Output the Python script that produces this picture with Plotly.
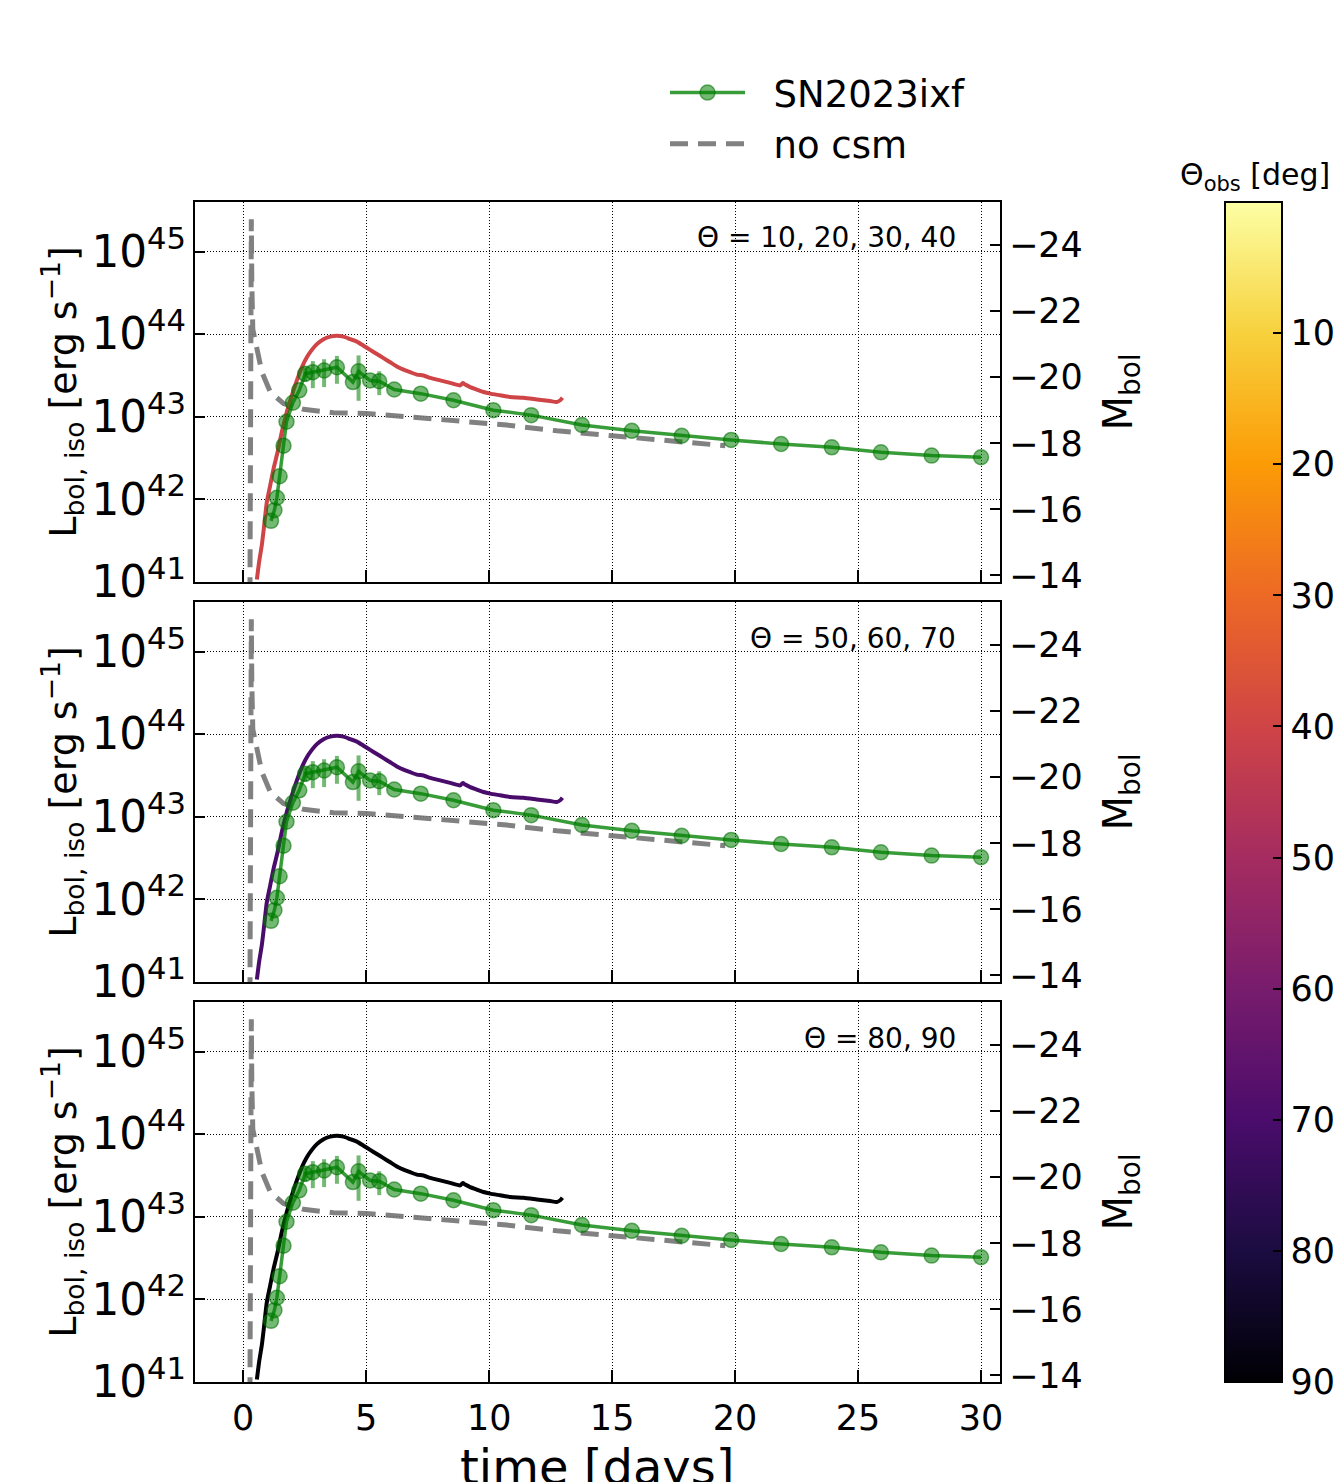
import numpy as np
import plotly.graph_objects as go
from plotly.subplots import make_subplots
from plotly.colors import sample_colorscale

# ---------------- data ----------------
# SN2023ixf observed bolometric light curve (time [days], log10 L [erg/s])
t_obs = [1.13, 1.27, 1.37, 1.48, 1.64, 1.76, 2.02, 2.28, 2.52, 2.83, 3.29, 3.81,
         4.46, 4.69, 5.16, 5.53, 6.14, 7.22, 8.55, 10.17, 11.71, 13.77, 15.80,
         17.83, 19.84, 21.87, 23.93, 25.93, 27.99, 30.00]
logL_obs = [41.74, 41.87, 42.02, 42.28, 42.65, 42.94, 43.17, 43.32, 43.52, 43.54,
            43.56, 43.60, 43.42, 43.55, 43.44, 43.43, 43.33, 43.28, 43.20, 43.08,
            43.02, 42.90, 42.83, 42.77, 42.72, 42.67, 42.63, 42.57, 42.53, 42.51]
# fractional (linear) uncertainties
frac_err_obs = [0, 0, 0, 0, 0, 0, 0, 0, 0.20, 0.36, 0.37, 0.37,
                0, 0.56, 0, 0.32, 0, 0, 0, 0, 0, 0, 0, 0, 0, 0, 0, 0, 0, 0]

# model light curve (CSM interaction), identical for all viewing angles
t_model = [0.556, 0.650, 0.759, 0.854, 0.962, 1.098, 1.233, 1.396, 1.572, 1.775,
           1.978, 2.182, 2.385, 2.588, 2.791, 2.995, 3.266, 3.537, 3.808, 4.079,
           4.350, 4.621, 4.892, 5.163, 5.434, 5.705, 5.976, 6.247, 6.518, 6.789,
           7.060, 7.331, 7.602, 8.008, 8.415, 8.821, 8.930, 9.024, 9.228, 9.499,
           9.770, 10.04, 10.45, 10.85, 11.40, 11.94, 12.48, 12.75, 12.89, 12.98]
logL_model = [41.03, 41.25, 41.45, 41.69, 41.97, 42.17, 42.37, 42.57, 42.82, 43.06,
              43.26, 43.44, 43.60, 43.72, 43.81, 43.88, 43.94, 43.97, 43.98, 43.97,
              43.94, 43.91, 43.86, 43.81, 43.76, 43.71, 43.66, 43.61, 43.57, 43.54,
              43.51, 43.50, 43.47, 43.44, 43.41, 43.38, 43.41, 43.39, 43.36, 43.33,
              43.30, 43.28, 43.26, 43.24, 43.23, 43.21, 43.19, 43.18, 43.20, 43.23]

# model without CSM
t_nocsm = [0.27, 0.30, 0.33, 0.35, 0.39, 0.47, 0.56, 0.76, 1.10, 1.64, 2.45, 3.67,
           5.03, 6.65, 8.69, 10.72, 12.75, 14.92, 17.20, 19.60]
logL_nocsm = [40.5, 44.0, 45.39, 44.62, 44.06, 43.95, 43.82, 43.54, 43.30, 43.16,
              43.09, 43.05, 43.04, 43.00, 42.94, 42.90, 42.83, 42.77, 42.71, 42.65]

# panels: viewing angles shown in each
panel_angles = [[10, 20, 30, 40], [50, 60, 70], [80, 90]]
panel_labels = ["Θ = 10, 20, 30, 40", "Θ = 50, 60, 70", "Θ = 80, 90"]

cbar_ticks = [10, 20, 30, 40, 50, 60, 70, 80, 90]
x_ticks = [0, 5, 10, 15, 20, 25, 30]

# axis ranges
x_range = [-1.96, 30.77]
logL_range = [41.0, 45.6]
M_SUN, LOGL_SUN = 4.74, np.log10(3.828e33)


def mag(logl):
    return M_SUN - 2.5 * (np.asarray(logl, dtype=float) - LOGL_SUN)


FONT = "DejaVu Sans"
W, H = 1342, 1482
L_M, R_M, T_M, B_M = 195, 342, 202, 100
plot_w = W - L_M - R_M
plot_h = H - T_M - B_M


def py(pix):
    """pixel row -> paper y"""
    return (H - B_M - pix) / plot_h


def px(pix):
    """pixel column -> paper x"""
    return (pix - L_M) / plot_w


fig = make_subplots(rows=3, cols=1, shared_xaxes=True,
                    vertical_spacing=20 / plot_h,
                    specs=[[{"secondary_y": True}]] * 3)

L_obs = 10 ** np.array(logL_obs)
err_obs = L_obs * np.array(frac_err_obs)

green_line = "rgba(0,128,0,0.78)"
green_mark = "rgba(0,128,0,0.55)"
NB = "\u00a0\u00a0"

for i, angles in enumerate(panel_angles):
    row = i + 1
    first = (i == 0)
    # invisible carrier for the absolute-magnitude axis
    fig.add_trace(go.Scatter(
        x=t_obs, y=mag(logL_obs), mode="lines", line=dict(color="rgba(0,0,0,0)"),
        showlegend=False, hoverinfo="skip"),
        row=row, col=1, secondary_y=True)
    # no csm
    fig.add_trace(go.Scatter(
        x=t_nocsm, y=10 ** np.array(logL_nocsm), mode="lines",
        line=dict(color="rgba(115,115,115,0.9)", width=5, dash="18px,10px"),
        name=NB + "no csm", showlegend=first, legendrank=2, hoverinfo="skip"),
        row=row, col=1, secondary_y=False)
    # model line, coloured by the largest angle of the panel (drawn on top)
    col = sample_colorscale("Inferno", [(90 - angles[-1]) / 90.0])[0]
    fig.add_trace(go.Scatter(
        x=t_model, y=10 ** np.array(logL_model), mode="lines",
        line=dict(color=col, width=4, shape="spline", smoothing=0.6),
        showlegend=False, hoverinfo="skip"),
        row=row, col=1, secondary_y=False)
    # observations
    fig.add_trace(go.Scatter(
        x=t_obs, y=L_obs, mode="lines+markers",
        line=dict(color=green_line, width=3.5),
        marker=dict(size=15, color=green_mark,
                    line=dict(color="rgba(0,110,0,0.55)", width=1.5)),
        error_y=dict(type="data", array=err_obs, symmetric=True, width=0,
                     thickness=4, color="rgba(0,128,0,0.55)"),
        name=NB + "SN2023ixf", showlegend=first, legendrank=1, hoverinfo="skip"),
        row=row, col=1, secondary_y=False)

# colour bar carrier
fig.add_trace(go.Scatter(
    x=[None], y=[None], mode="markers", showlegend=False, hoverinfo="skip",
    marker=dict(color=[-a for a in cbar_ticks], colorscale="Inferno",
                cmin=-90, cmax=0, showscale=True,
                colorbar=dict(
                    x=px(1225), xanchor="left", xpad=0, ypad=0,
                    y=0, yanchor="bottom", len=plot_h, lenmode="pixels",
                    thickness=57, outlinewidth=2, outlinecolor="black",
                    ticks="inside", ticklen=10, tickwidth=1.5, tickcolor="black",
                    tickvals=[-a for a in cbar_ticks],
                    ticktext=[str(a) for a in cbar_ticks],
                    tickfont=dict(family=FONT, size=35, color="black")))),
    row=1, col=1)

fig.add_annotation(x=px(1255), y=py(176),
                   xref="paper", yref="paper", xanchor="center", yanchor="middle",
                   text="Θ<sub>obs</sub> [deg]", showarrow=False,
                   font=dict(family=FONT, size=30, color="black"))

# x-axis title (partly below the page edge, as in the original)
fig.add_annotation(x=px(597), y=py(1437),
                   xref="paper", yref="paper", xanchor="center", yanchor="top",
                   text="time [days]", showarrow=False,
                   font=dict(family=FONT, size=48, color="black"))

M_range = [float(mag(logL_range[0])), float(mag(logL_range[1]))]

for i in range(3):
    xa = "xaxis" if i == 0 else f"xaxis{i + 1}"
    ya = "yaxis" if i == 0 else f"yaxis{2 * i + 1}"
    yb = f"yaxis{2 * i + 2}"
    last = (i == 2)
    fig.layout[xa].update(
        domain=[0, 1],
        range=x_range, tickvals=x_ticks,
        showgrid=True, gridcolor="black", griddash="1px,2px", gridwidth=1,
        zeroline=False, showline=True, linecolor="black", linewidth=2,
        mirror=True, ticks="inside", ticklen=12, tickwidth=1.5, tickcolor="black",
        showticklabels=last,
        tickfont=dict(family=FONT, size=35, color="black"),
        ticklabelstandoff=4)
    fig.layout[ya].update(
        type="log", range=logL_range, dtick=1, exponentformat="power",
        showgrid=True, gridcolor="black", griddash="1px,2px", gridwidth=1,
        zeroline=False, showline=True, linecolor="black", linewidth=2,
        ticks="inside", ticklen=10, tickwidth=1.5, tickcolor="black",
        tickfont=dict(family=FONT, size=35, color="black"),
        title=dict(text="L<sub>bol, iso</sub> [erg s<sup>−1</sup>]", standoff=3,
                   font=dict(family=FONT, size=38, color="black")))
    fig.layout[yb].update(
        range=M_range, dtick=2, tick0=0, showgrid=False, zeroline=False,
        showline=True, linecolor="black", linewidth=2,
        ticks="inside", ticklen=10, tickwidth=1.5, tickcolor="black",
        tickfont=dict(family=FONT, size=35, color="black"),
        title=dict(text="M<sub>bol</sub>", standoff=22,
                   font=dict(family=FONT, size=40, color="black")))
    # domains
    top = T_M + i * 400
    bot = top + 380
    fig.layout[ya].domain = [py(bot), py(top)]
    # panel annotation
    fig.add_annotation(
        x=px(958), y=py(238 + i * 400),
        xref="paper", yref="paper", xanchor="right", yanchor="middle",
        text=panel_labels[i], showarrow=False,
        font=dict(family=FONT, size=28, color="black"))

fig.update_layout(
    width=W, height=H, margin=dict(l=L_M, r=R_M, t=T_M, b=B_M, autoexpand=False),
    paper_bgcolor="white", plot_bgcolor="white",
    font=dict(family=FONT, color="black"),
    legend=dict(x=px(665), xanchor="left", y=py(62), yanchor="top",
                font=dict(family=FONT, size=37, color="black"),
                bgcolor="rgba(0,0,0,0)", itemwidth=75, tracegroupgap=0),
)

fig.write_html("out.html")
